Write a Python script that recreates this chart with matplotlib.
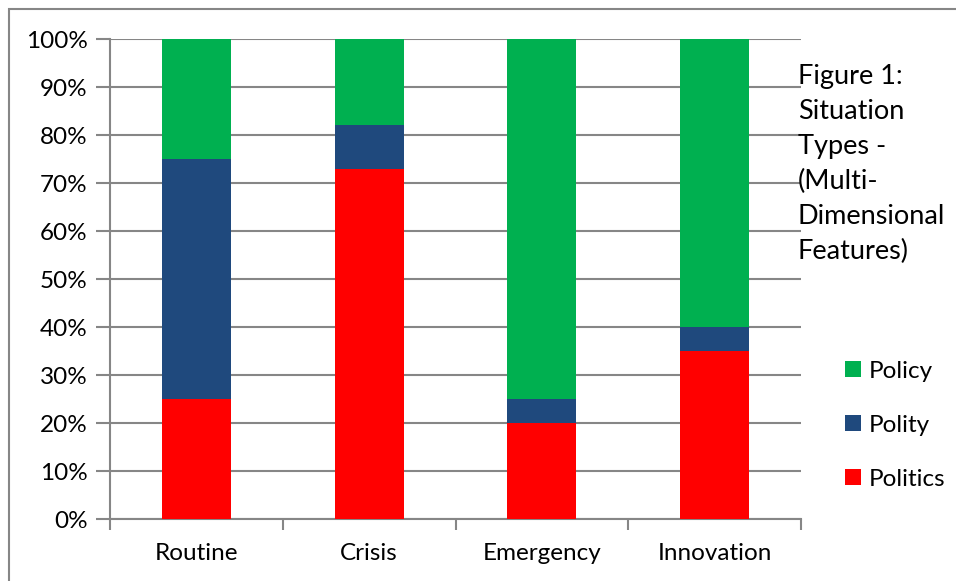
import matplotlib
matplotlib.use("Agg")
import matplotlib.pyplot as plt
from matplotlib.patches import Rectangle
from matplotlib.ticker import FixedLocator, NullFormatter, FuncFormatter

categories = ["Routine", "Crisis", "Emergency", "Innovation"]
politics = [25, 73, 20, 35]
polity = [50, 9, 5, 5]
policy = [25, 18, 75, 60]
series_names = ["Politics", "Polity", "Policy"]
colors = ["#FF0000", "#1F497D", "#00B050"]
yticks = list(range(0, 101, 10))

plt.rcParams['font.family'] = ['Lato', 'DejaVu Sans']
W, H = 956, 581
fig = plt.figure(figsize=(W / 100, H / 100), dpi=100)
ax = fig.add_axes([110 / W, 1 - 519 / H, (801 - 110) / W, (519 - 39) / H])

x = list(range(len(categories)))
bottom = [0] * len(categories)
handles = []
for vals, name, c in zip([politics, polity, policy], series_names, colors):
    b = ax.bar(x, vals, width=0.4, bottom=bottom, color=c, label=name, zorder=3)
    handles.append(b)
    bottom = [bb + v for bb, v in zip(bottom, vals)]

ax.set_xlim(-0.5, len(categories) - 0.5)
ax.set_ylim(0, 100)
ax.set_yticks(yticks)
ax.yaxis.set_major_formatter(FuncFormatter(lambda v, p: f"{int(v)}%"))
ax.set_xticks(x)
ax.set_xticklabels(categories)
ax.xaxis.set_minor_locator(FixedLocator([i - 0.5 for i in range(len(categories) + 1)]))
ax.xaxis.set_minor_formatter(NullFormatter())
ax.tick_params(axis='x', which='major', length=0, pad=17, labelsize=17.5, labelcolor='#000000')
ax.tick_params(axis='x', which='minor', length=8, width=1.5, color='#868686')
ax.tick_params(axis='y', length=10, width=1.5, color='#868686', labelsize=17.5, pad=6)
ax.grid(axis='y', color='#868686', linewidth=1.5, zorder=0)
ax.set_axisbelow(True)
for s in ['top', 'right']:
    ax.spines[s].set_visible(False)
for s in ['left', 'bottom']:
    ax.spines[s].set_color('#868686')
    ax.spines[s].set_linewidth(1.5)
ax.spines['left'].set_zorder(4)

# figure border
top = 1 - 9 / H
fig.patches.append(Rectangle((9 / W, -0.5), 2, top + 0.5, transform=fig.transFigure,
                             fill=False, edgecolor='#868686', linewidth=1.5))

# title text
fig.text(798 / W, 1 - 64 / H,
         "Figure 1:\nSituation\nTypes -\n(Multi-\nDimensional\nFeatures)",
         ha='left', va='top', fontsize=19.5, linespacing=1.5, zorder=10)

# legend
leg = fig.legend(handles[::-1], series_names[::-1], loc='upper left',
                 bbox_to_anchor=(823 / W, 1 - 339 / H), frameon=False,
                 fontsize=17.5, handlelength=0.65, handleheight=0.65,
                 labelspacing=1.35, handletextpad=0.35)

fig.savefig("out.png", dpi=100)
